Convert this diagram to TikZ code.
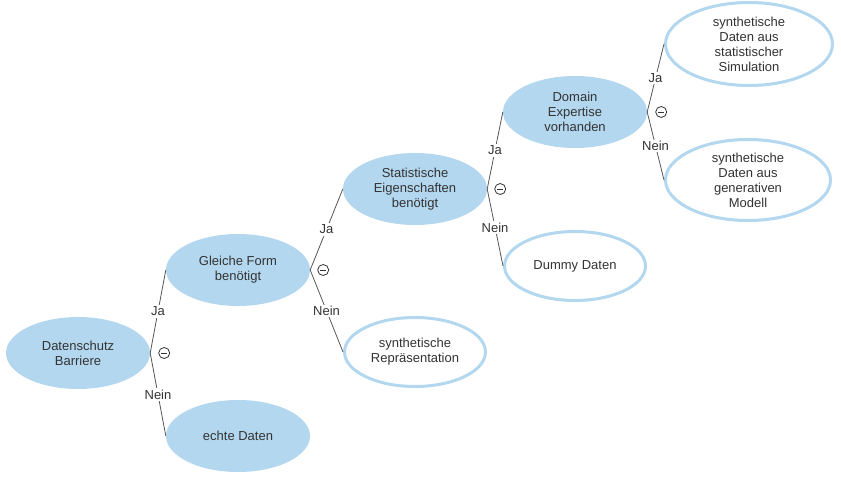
\documentclass[tikz,border=0pt]{standalone}
\usepackage{fontspec}
\setmainfont{Liberation Sans}
\usetikzlibrary{shapes.geometric}

\definecolor{nodeblue}{HTML}{B3D7EF}
\definecolor{textgray}{HTML}{333333}
\definecolor{linegray}{HTML}{555555}

\tikzset{
  question/.style={ellipse, fill=nodeblue, text=textgray, minimum width=144pt, minimum height=72pt, inner sep=0pt, align=center, font=\fontsize{13}{15}\selectfont},
  answer/.style={ellipse, draw=nodeblue, line width=3pt, fill=white, text=textgray, minimum width=141pt, minimum height=69pt, inner sep=0pt, align=center, font=\fontsize{13}{15}\selectfont},
  branch/.style={draw=linegray, line width=0.8pt},
  choice/.style={fill=white, text=textgray, inner sep=1.5pt, font=\fontsize{13}{15}\selectfont},
  collapse/.style={circle, draw=textgray, line width=0.8pt, minimum size=11pt, inner sep=0pt,
    path picture={\draw[textgray, line width=0.9pt] ([xshift=-3pt]path picture bounding box.center) -- ([xshift=3pt]path picture bounding box.center);}}
}

\begin{document}
\begin{tikzpicture}[x=1pt,y=-1pt]
	\useasboundingbox (0,0) rectangle (841,479);

	% decision nodes
	\node[question] (barrier) at (78,353) {Datenschutz\\Barriere};
	\node[question] (form) at (238,270) {Gleiche Form\\benötigt};
	\node[question] (real) at (238,436) {echte Daten};
	\node[question] (stats) at (415,189) {Statistische\\Eigenschaften\\benötigt};
	\node[answer] (repr) at (415,352) {synthetische\\Repräsentation};
	\node[question] (domain) at (575,112) {Domain\\Expertise\\vorhanden};
	\node[answer] (dummy) at (575,266) {Dummy Daten};
	\node[answer, minimum width=167pt, minimum height=83pt] (simul) at (749,44) {synthetische\\Daten aus\\statistischer\\Simulation};
	\node[answer, minimum width=165pt, minimum height=81pt] (genmod) at (748,180) {synthetische\\Daten aus\\generativen\\Modell};

	% branches
	\draw[branch] (barrier.east) -- node[choice] {Ja} (form.west);
	\draw[branch] (barrier.east) -- node[choice] {Nein} (real.west);
	\draw[branch] (form.east) -- node[choice] {Ja} (stats.west);
	\draw[branch] (form.east) -- node[choice] {Nein} (repr.west);
	\draw[branch] (stats.east) -- node[choice] {Ja} (domain.west);
	\draw[branch] (stats.east) -- node[choice] {Nein} (dummy.west);
	\draw[branch] (domain.east) -- node[choice] {Ja} (simul.west);
	\draw[branch] (domain.east) -- node[choice] {Nein} (genmod.west);

	% collapse buttons
	\node[collapse] (cbarrier) at ([xshift=14pt]barrier.east) {};
	\node[collapse] (cform) at ([xshift=13pt]form.east) {};
	\node[collapse] (cstats) at ([xshift=13pt]stats.east) {};
	\node[collapse] (cdomain) at ([xshift=14pt]domain.east) {};
\end{tikzpicture}
\end{document}
